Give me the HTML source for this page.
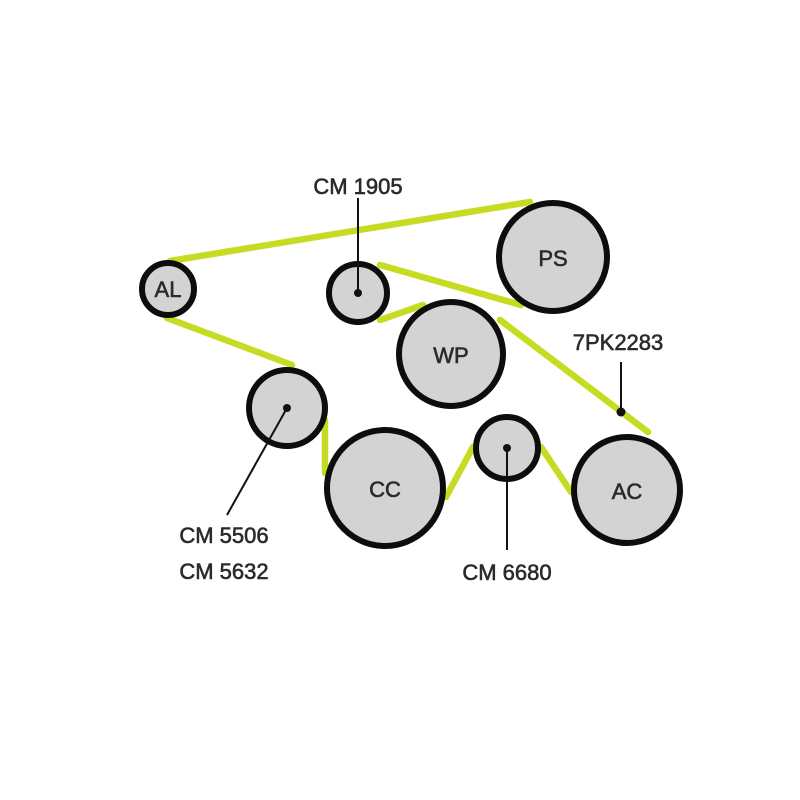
<!DOCTYPE html>
<html><head><style>body{margin:0;background:#fff}svg{display:block}text{font-family:"Liberation Sans",sans-serif;fill:#2b2b2b;stroke:#2b2b2b;stroke-width:0.6}</style></head>
<body>
<svg width="800" height="800" viewBox="0 0 800 800">
<g stroke="#c5dc23" stroke-width="6.5" stroke-linecap="round">
<line x1="170" y1="261" x2="530" y2="202"/>
<line x1="521" y1="305" x2="380" y2="265"/>
<line x1="380" y1="320" x2="423" y2="305"/>
<line x1="500" y1="320" x2="648" y2="432"/>
<line x1="571" y1="492" x2="541" y2="447"/>
<line x1="473" y1="447" x2="446" y2="497"/>
<line x1="325" y1="473" x2="325" y2="420"/>
<line x1="292" y1="365" x2="167" y2="318"/>
</g>
<g fill="#d3d3d3" stroke="#0d0d0d" stroke-width="6">
<circle cx="168" cy="289" r="26"/>
<circle cx="358" cy="293" r="29"/>
<circle cx="553" cy="257" r="54"/>
<circle cx="451" cy="354" r="52"/>
<circle cx="287" cy="408" r="38"/>
<circle cx="385" cy="488" r="58"/>
<circle cx="507" cy="448" r="31"/>
<circle cx="627" cy="490" r="53"/>
</g>
<g stroke="#111" stroke-width="2">
<line x1="358" y1="198" x2="358" y2="293"/>
<line x1="621" y1="362" x2="621" y2="412"/>
<line x1="287" y1="408" x2="227" y2="515"/>
<line x1="507" y1="448" x2="507" y2="550"/>
</g>
<g fill="#111">
<circle cx="358" cy="293" r="4"/><circle cx="621" cy="412" r="4.5"/>
<circle cx="287" cy="408" r="4"/><circle cx="507" cy="448" r="4"/>
</g>
<g font-size="22" text-anchor="middle">
<text x="168" y="297">AL</text>
<text x="553" y="266">PS</text>
<text x="451" y="363">WP</text>
<text x="385" y="497">CC</text>
<text x="627" y="499">AC</text>
<text x="358" y="194">CM 1905</text>
<text x="618" y="350">7PK2283</text>
<text x="224" y="543">CM 5506</text>
<text x="224" y="579">CM 5632</text>
<text x="507" y="580">CM 6680</text>
</g>
</svg>
</body></html>
